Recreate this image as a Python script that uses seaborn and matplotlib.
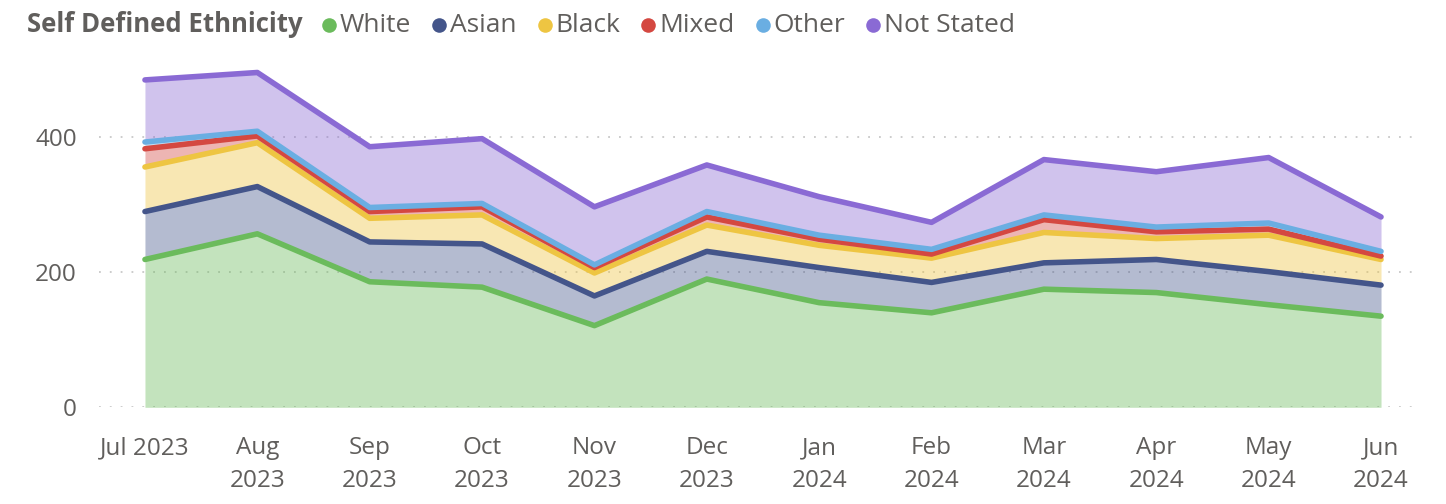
import numpy as np
import pandas as pd
import seaborn as sns
import matplotlib.pyplot as plt
from matplotlib.lines import Line2D

# monthly counts by self defined ethnicity
months = ["Jul 2023", "Aug\n2023", "Sep\n2023", "Oct\n2023", "Nov\n2023", "Dec\n2023",
          "Jan\n2024", "Feb\n2024", "Mar\n2024", "Apr\n2024", "May\n2024", "Jun\n2024"]
white = [219, 257, 186, 178, 121, 190, 155, 140, 175, 170, 152, 135]
asian = [71, 70, 59, 64, 44, 41, 52, 45, 39, 49, 49, 46]
black = [66, 65, 35, 43, 34, 39, 33, 36, 45, 31, 54, 38]
mixed = [27, 10, 10, 12, 8, 12, 9, 6, 19, 10, 9, 5]
other = [10, 7, 6, 5, 4, 8, 6, 7, 7, 7, 9, 7]
not_stated = [92, 87, 90, 96, 86, 69, 57, 40, 82, 82, 97, 51]

groups = ["White", "Asian", "Black", "Mixed", "Other", "Not Stated"]
colours = ["#6BBB5C", "#44558A", "#EEC542", "#D44841", "#6AAEE2", "#8A6AD4"]

sns.set_theme(style="white")
plt.rcParams['font.family'] = ['Open Sans', 'DejaVu Sans']
text_col = "#605E5C"

# stack the series
stack = np.cumsum(np.array([white, asian, black, mixed, other, not_stated]), axis=0)
x = np.arange(len(months))

long = []
for i, g in enumerate(groups):
    for j in range(len(months)):
        long.append({"month": j, "count": stack[i, j], "group": g})
df = pd.DataFrame(long)

fig = plt.figure(figsize=(14.46, 5.04), dpi=100)
ax = fig.add_axes([99 / 1446, 96.7 / 504, 1319 / 1446, 351 / 504])

lower = np.zeros(len(months))
for i, g in enumerate(groups):
    ax.fill_between(x, lower, stack[i], color=colours[i], alpha=0.4, lw=0, zorder=1)
    lower = stack[i]

sns.lineplot(data=df, x="month", y="count", hue="group", hue_order=groups,
             palette=colours, linewidth=4, legend=False, ax=ax, zorder=2)

ax.set_xlim(-0.409, 11.329)
ax.set_ylim(0, 520)
ax.set_yticks([0, 200, 400])
ax.set_xticks(x)
ax.set_xticklabels(months, linespacing=1.45)
ax.tick_params(axis='x', length=0, pad=21, labelsize=17.5, colors=text_col)
ax.tick_params(axis='y', length=0, pad=16, labelsize=17.5, colors=text_col)
ax.set_xlabel("")
ax.set_ylabel("")
for s in ax.spines.values():
    s.set_visible(False)
ax.yaxis.grid(True, linestyle=(0, (1, 5)), color="#C8C8C8", linewidth=1.3)
ax.set_axisbelow(True)

# legend drawn as a row of texts, like the original header
fig.canvas.draw()
r = fig.canvas.get_renderer()
W, H = 1446, 504
y_leg = 1 - 25 / H
xpos = 27
t = fig.text(xpos / W, y_leg, "Self Defined Ethnicity", fontsize=18.5, fontweight='bold',
             color=text_col, va='center', ha='left')
xpos += t.get_window_extent(r).width + 19
for g, c in zip(groups, colours):
    fig.add_artist(Line2D([(xpos + 7) / W], [y_leg], marker='o', markersize=10.5, color=c,
                          markeredgewidth=0, transform=fig.transFigure))
    t = fig.text((xpos + 18) / W, y_leg, g, fontsize=19, color=text_col, va='center', ha='left')
    xpos += 18 + t.get_window_extent(r).width + 21

fig.savefig("out.png", dpi=100)
